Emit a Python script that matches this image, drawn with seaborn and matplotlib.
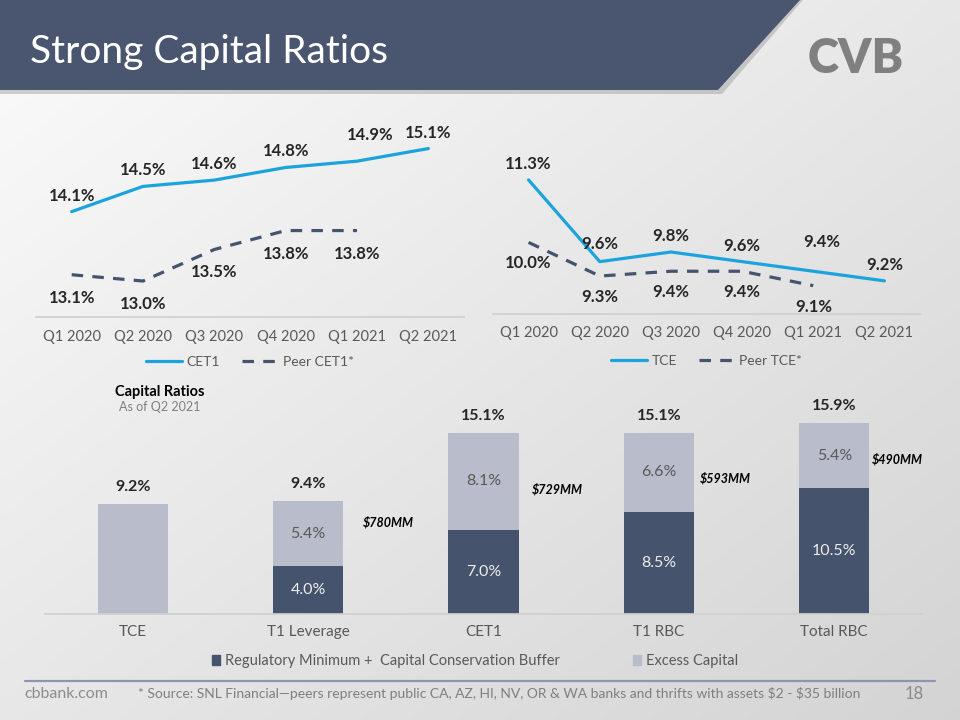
import numpy as np
import pandas as pd
import matplotlib
matplotlib.use('Agg')
import matplotlib.pyplot as plt
from matplotlib.patches import Polygon, Patch
from matplotlib.lines import Line2D
import seaborn as sns

# ---- data ----
quarters = ['Q1 2020', 'Q2 2020', 'Q3 2020', 'Q4 2020', 'Q1 2021', 'Q2 2021']
cet1 = [14.1, 14.5, 14.6, 14.8, 14.9, 15.1]
peer_cet1 = [13.1, 13.0, 13.5, 13.8, 13.8]
tce = [11.3, 9.6, 9.8, 9.6, 9.4, 9.2]
peer_tce = [10.0, 9.3, 9.4, 9.4, 9.1]

ratio_names = ['TCE', 'T1 Leverage', 'CET1', 'T1 RBC', 'Total RBC']
reg_minimum = [0.0, 4.0, 7.0, 8.5, 10.5]
excess_capital = [9.2, 5.4, 8.1, 6.6, 5.4]
excess_dollars = ['', r'\$780MM', r'\$729MM', r'\$593MM', r'\$490MM']

# ---- style ----
BLUE = '#1BA3DE'
SLATE = '#46536D'
LIGHT = '#B8BCCB'
TXT = '#262626'
GRAY = '#595959'
LW = 2.3

sns.set_theme(style='white')
plt.rcParams['font.family'] = ['Lato', 'DejaVu Sans']

fig = plt.figure(figsize=(9.6, 7.2), dpi=100)
W, H = 960, 720


def rect(x0, y0, x1, y1):
    # pixel box (top-left origin) -> figure fraction
    return [x0 / W, 1 - y1 / H, (x1 - x0) / W, (y1 - y0) / H]


# background gradient + header band
bg = fig.add_axes([0, 0, 1, 1], zorder=-10)
gx, gy = np.meshgrid(np.linspace(0, 1, 200), np.linspace(0, 1, 150))
t = 0.5 * gx + 0.5 * gy
c0 = np.array([0.985, 0.985, 0.985])
c1 = np.array([0.83, 0.83, 0.83])
img = c0[None, None, :] * (1 - t[..., None]) + c1[None, None, :] * t[..., None]
bg.imshow(img, extent=[0, W, H, 0], aspect='auto', interpolation='bilinear')
bg.add_patch(Polygon([(0, 0), (803, 0), (722, 94), (0, 94)], closed=True,
                     facecolor='#9A9A9A', alpha=0.45, edgecolor='none'))
bg.add_patch(Polygon([(0, 0), (800, 0), (718, 90), (0, 90)], closed=True,
                     facecolor='#4A5670', edgecolor='none'))
bg.set_xlim(0, W)
bg.set_ylim(H, 0)
bg.axis('off')

bg.text(30, 52, 'Strong Capital Ratios', color='white', fontsize=28,
        fontweight='normal', va='center', ha='left')
bg.text(856, 59, 'CVB', color='#808080', fontsize=34, fontweight='heavy',
        va='center', ha='center')

# footer
bg.plot([25, 935], [681, 681], color='#8C96AE', lw=1.6)
bg.text(24, 694, 'cbbank.com', color='#8C8C8C', fontsize=11.5, va='center', ha='left')
bg.text(138, 694, '* Source: SNL Financial\u2014peers represent public CA, AZ, HI, NV, OR & WA '
        r'banks and thrifts with assets \$2 - \$35 billion',
        color='#7F7F7F', fontsize=10, va='center', ha='left')
bg.text(914, 694, '18', color='#8C8C8C', fontsize=12, va='center', ha='center')


def line_panel(box, own, peer, own_name, peer_name, ylim, own_offsets, peer_dy, legend_y):
    ax = fig.add_axes(rect(*box))
    df = pd.DataFrame({
        'quarter': quarters + quarters[:len(peer)],
        'value': own + peer,
        'series': [own_name] * len(own) + [peer_name] * len(peer),
    })
    sns.lineplot(data=df, x='quarter', y='value', hue='series', style='series',
                 palette={own_name: BLUE, peer_name: SLATE},
                 dashes={own_name: '', peer_name: (3.6, 2.9)},
                 linewidth=LW, sort=False, legend=False, ax=ax)
    for i, v in enumerate(own):
        dx, dy = own_offsets.get(i, (0, 16))
        ax.annotate(f'{v:.1f}%', (quarters[i], v), xytext=(dx, dy),
                    textcoords='offset pixels', ha='center', va='center',
                    fontsize=12, fontweight='bold', color=TXT)
    for i, v in enumerate(peer):
        ax.annotate(f'{v:.1f}%', (quarters[i], v), xytext=(0, peer_dy),
                    textcoords='offset pixels', ha='center', va='center',
                    fontsize=12, fontweight='bold', color=TXT)
    ax.set_xlim(-0.5, len(quarters) - 0.5)
    ax.set_ylim(*ylim)
    ax.set_facecolor('none')
    for s in ['top', 'left', 'right']:
        ax.spines[s].set_visible(False)
    ax.spines['bottom'].set_color('#D0D0D0')
    ax.set_yticks([])
    ax.set_xlabel('')
    ax.set_ylabel('')
    ax.tick_params(axis='x', length=0, labelsize=10.5, labelcolor=GRAY, pad=9)
    handles = [Line2D([], [], color=BLUE, lw=LW),
               Line2D([], [], color=SLATE, lw=LW, dashes=(3.6, 2.9))]
    ax.legend(handles, [own_name, peer_name], loc='center',
              bbox_to_anchor=(0.5, legend_y), ncol=2, frameon=False,
              fontsize=10, labelcolor=GRAY, handlelength=2.6,
              columnspacing=1.6, handletextpad=0.3)
    return ax


line_panel((36, 117, 464, 317), cet1, peer_cet1, 'CET1', 'Peer CET1*',
           (12.43, 15.6), {4: (13, 26)}, -23, -0.225)
line_panel((493, 117, 920, 314), tce, peer_tce, 'TCE', 'Peer TCE*',
           (8.51, 12.61), {1: (0, 18), 4: (9, 29)}, -21, -0.24)

# ---- stacked bars ----
axb = fig.add_axes(rect(45, 390, 922, 614))
totals = [r + e for r, e in zip(reg_minimum, excess_capital)]
sns.barplot(x=ratio_names, y=totals, color=LIGHT, width=0.4, saturation=1,
            linewidth=0, ax=axb)
sns.barplot(x=ratio_names, y=reg_minimum, color=SLATE, width=0.4, saturation=1,
            linewidth=0, ax=axb)
axb.set_ylim(0, 18.67)
axb.set_facecolor('none')
for s in ['top', 'left', 'right']:
    axb.spines[s].set_visible(False)
axb.spines['bottom'].set_color('#D0D0D0')
axb.set_yticks([])
axb.tick_params(axis='x', length=0, labelsize=11, labelcolor=GRAY, pad=8)

dollar_pos = [None, (0.456, 7.67), (0.42, 10.4), (0.38, 11.3), (0.36, 12.9)]
for i, name in enumerate(ratio_names):
    r, e, tot = reg_minimum[i], excess_capital[i], totals[i]
    axb.annotate(f'{tot:.1f}%', (i, tot), xytext=(0, 17), textcoords='offset pixels',
                 ha='center', va='center', fontsize=11.5, fontweight='bold', color=TXT)
    if r > 0:
        axb.text(i, r / 2, f'{r:.1f}%', ha='center', va='center', fontsize=11.5,
                 color='#EDEDED')
        axb.text(i, r + e / 2, f'{e:.1f}%', ha='center', va='center', fontsize=11.5,
                 color=GRAY)
    if dollar_pos[i] is not None:
        dx, y = dollar_pos[i]
        axb.text(i + dx, y, excess_dollars[i], ha='center', va='center', fontsize=9,
                 fontweight='bold', fontstyle='italic', color='black')

axb.legend([Patch(color=SLATE), Patch(color=LIGHT)],
           ['Regulatory Minimum +  Capital Conservation Buffer', 'Excess Capital'],
           loc='center', bbox_to_anchor=(0.49, -0.21), ncol=2, frameon=False,
           fontsize=10.5, labelcolor=GRAY, handlelength=0.6, handleheight=0.6,
           handletextpad=0.3, columnspacing=5)

bg.text(160, 392, 'Capital Ratios', ha='center', va='center', fontsize=10.5,
        fontweight='bold', color='black')
bg.text(160, 407, 'As of Q2 2021', ha='center', va='center', fontsize=9,
        color='#7F7F7F')

fig.savefig('out.png', dpi=100)
